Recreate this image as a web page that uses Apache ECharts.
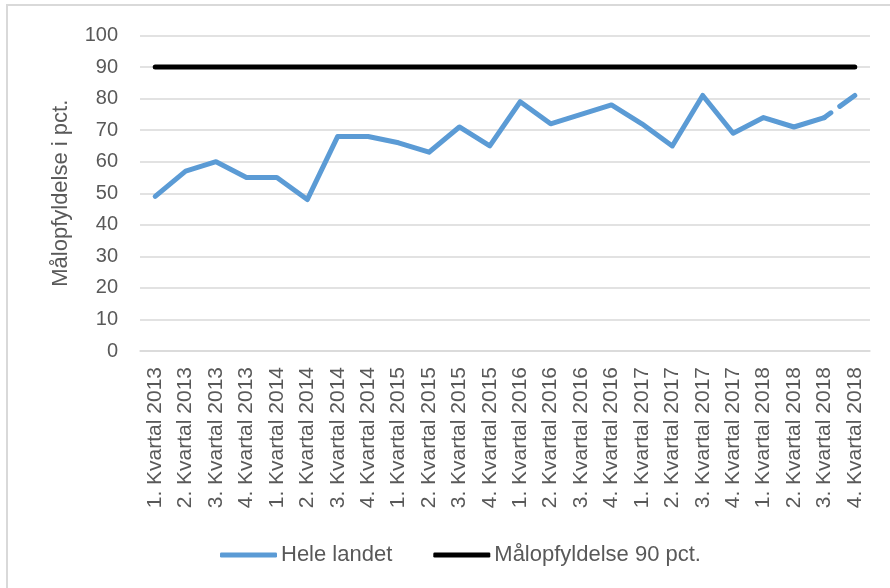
<!DOCTYPE html>
<html>
<head>
<meta charset="utf-8">
<script src="https://cdn.jsdelivr.net/npm/echarts@6/dist/echarts.min.js"></script>
<style>html,body{margin:0;padding:0;background:#fff;}#c{width:890px;height:588px;}</style>
</head>
<body>
<div id="c"></div>
<script>
const categories = [
  "1. Kvartal 2013","2. Kvartal 2013","3. Kvartal 2013","4. Kvartal 2013",
  "1. Kvartal 2014","2. Kvartal 2014","3. Kvartal 2014","4. Kvartal 2014",
  "1. Kvartal 2015","2. Kvartal 2015","3. Kvartal 2015","4. Kvartal 2015",
  "1. Kvartal 2016","2. Kvartal 2016","3. Kvartal 2016","4. Kvartal 2016",
  "1. Kvartal 2017","2. Kvartal 2017","3. Kvartal 2017","4. Kvartal 2017",
  "1. Kvartal 2018","2. Kvartal 2018","3. Kvartal 2018","4. Kvartal 2018"
];
const heleLandet = [49,57,60,55,55,48,68,68,66,63,71,65,79,72,75,78,72,65,81,69,74,71,74,81];
const maal = [90,90,90,90,90,90,90,90,90,90,90,90,90,90,90,90,90,90,90,90,90,90,90,90];
const yTicks = [0,10,20,30,40,50,60,70,80,90,100];
const seriesNames = ["Hele landet","Målopfyldelse 90 pct."];
const yName = "Målopfyldelse i pct.";

const n = heleLandet.length;
const solid = heleLandet.map((v,i)=> i < n-1 ? v : '-');
const dashed = heleLandet.map((v,i)=> i >= n-2 ? v : '-');

const FONT = "Liberation Sans";
const TXT = "#595959";
const chart = echarts.init(document.getElementById('c'), null, {renderer:'canvas'});
chart.setOption({
  animation:false,
  backgroundColor:'#ffffff',
  textStyle:{fontFamily:FONT},
  graphic:[{type:'rect', shape:{x:7,y:5,width:900,height:620}, style:{fill:'none', stroke:'#d9d9d9', lineWidth:2}, silent:true}],
  grid:{left:140,right:20,top:35.5,bottom:237,containLabel:false},
  legend:{
    data:seriesNames,
    left:215, top:539,
    itemWidth:57, itemHeight:5, itemGap:41,
    icon:'roundRect',
    textStyle:{fontFamily:FONT,fontSize:22,color:TXT,padding:[0,0,0,-1]},
    selectedMode:false
  },
  xAxis:{
    type:'category', data:categories, boundaryGap:true,
    axisLine:{show:true,lineStyle:{color:'#d9d9d9',width:1.5}},
    axisTick:{show:false},
    axisLabel:{interval:0, rotate:90, margin:16, fontFamily:FONT, fontSize:21, color:TXT}
  },
  yAxis:{
    type:'value', min:yTicks[0], max:yTicks[yTicks.length-1], interval:yTicks[1]-yTicks[0],
    name:yName, nameLocation:'middle', nameRotate:90, nameGap:68,
    nameTextStyle:{fontFamily:FONT,fontSize:22,color:TXT},
    axisLine:{show:false}, axisTick:{show:false},
    axisLabel:{margin:22, fontFamily:FONT, fontSize:20, color:TXT},
    splitLine:{lineStyle:{color:'#d9d9d9',width:1.5}}
  },
  series:[
    {name:seriesNames[0], type:'line', data:solid, showSymbol:false, symbol:'none', z:3,
     itemStyle:{color:'#5b9bd5'},
     lineStyle:{color:'#5b9bd5',width:5,cap:'round',join:'round'}},
    {name:seriesNames[0], type:'line', data:dashed, showSymbol:false, symbol:'none', z:3,
     itemStyle:{color:'#5b9bd5'},
     lineStyle:{color:'#5b9bd5',width:5,cap:'round',type:[8,11,20,10]}},
    {name:seriesNames[1], type:'line', data:maal, showSymbol:false, symbol:'none', z:2,
     itemStyle:{color:'#000000'},
     lineStyle:{color:'#000000',width:5,cap:'round'}}
  ]
});
</script>
</body>
</html>
